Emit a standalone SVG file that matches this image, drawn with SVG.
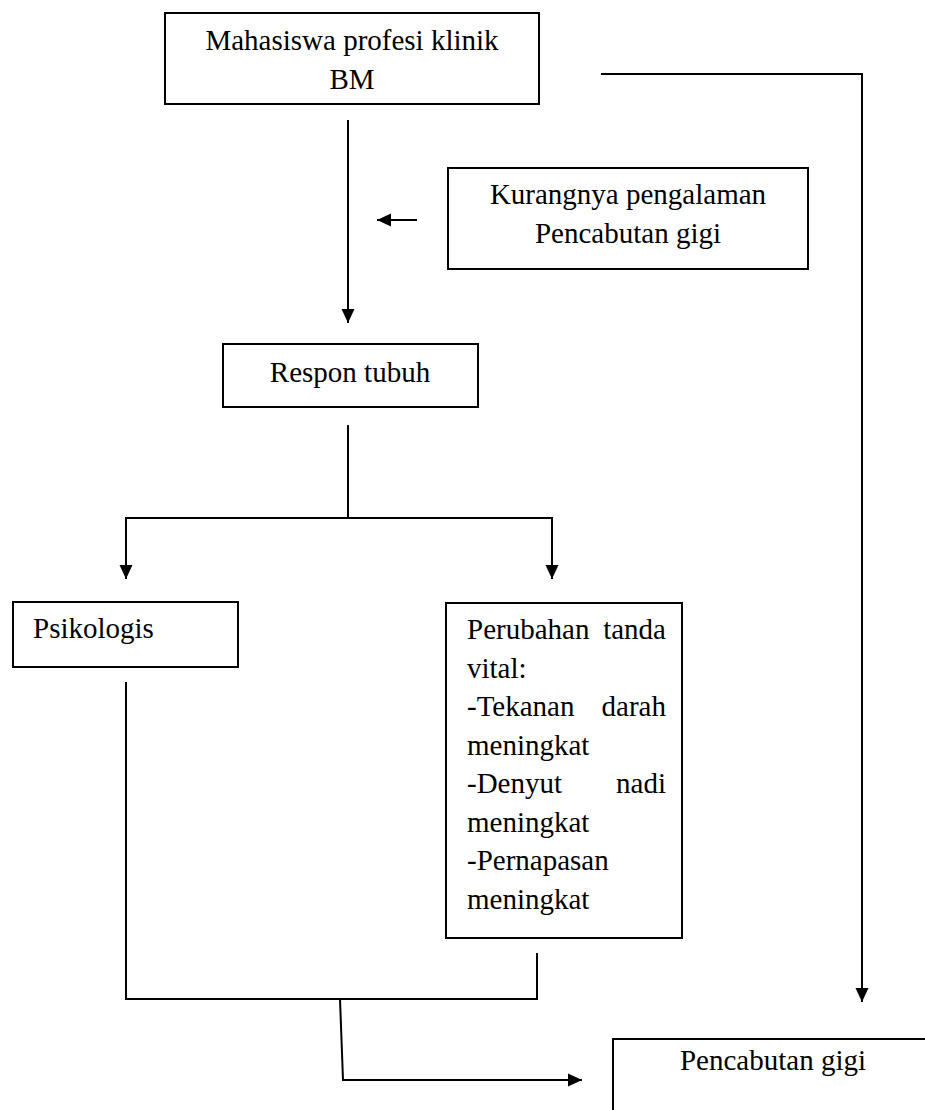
<svg xmlns="http://www.w3.org/2000/svg" width="925" height="1110" viewBox="0 0 925 1110">
<style>
.box{fill:#fff;stroke:#000;stroke-width:2}
.t{font-family:"Liberation Serif","Times New Roman",serif;font-size:29px;fill:#000}
.c{text-anchor:middle}
.e{text-anchor:end}
.ln{fill:none;stroke:#000;stroke-width:2}
</style>
<defs>
<marker id="ah" viewBox="0 0 14 14" refX="14" refY="7" markerWidth="7" markerHeight="7" orient="auto" markerUnits="strokeWidth">
<path d="M0,0.5 L14,7 L0,13.5 z" fill="#000"/>
</marker>
</defs>
<rect width="925" height="1110" fill="#fff"/>
<g id="connectors">
<line class="ln" x1="348" y1="120" x2="348" y2="323" marker-end="url(#ah)"/>
<line class="ln" x1="417" y1="220" x2="377" y2="220" marker-end="url(#ah)"/>
<line class="ln" x1="348" y1="425" x2="348" y2="518"/>
<line class="ln" x1="125" y1="518" x2="553" y2="518"/>
<line class="ln" x1="126" y1="518" x2="126" y2="579" marker-end="url(#ah)"/>
<line class="ln" x1="552" y1="518" x2="552" y2="579" marker-end="url(#ah)"/>
<polyline class="ln" points="601,74 862,74 862,1002" marker-end="url(#ah)"/>
<line class="ln" x1="126" y1="682" x2="126" y2="999"/>
<line class="ln" x1="125" y1="999" x2="538" y2="999"/>
<line class="ln" x1="537" y1="953" x2="537" y2="999"/>
<polyline class="ln" points="340,999 343,1080 582,1080" marker-end="url(#ah)"/>
</g>
<g id="node-mahasiswa">
<rect class="box" x="165" y="13" width="374" height="91"/>
<text class="t c" x="352" y="50">Mahasiswa profesi klinik</text>
<text class="t c" x="352" y="89">BM</text>
</g>
<g id="node-kurangnya">
<rect class="box" x="448" y="168" width="360" height="101"/>
<text class="t c" x="628" y="204">Kurangnya pengalaman</text>
<text class="t c" x="628" y="243">Pencabutan gigi</text>
</g>
<g id="node-respon">
<rect class="box" x="223" y="344" width="255" height="63"/>
<text class="t c" x="350" y="382">Respon tubuh</text>
</g>
<g id="node-psikologis">
<rect class="box" x="13" y="602" width="225" height="65"/>
<text class="t" x="33" y="638">Psikologis</text>
</g>
<g id="node-vital">
<rect class="box" x="446" y="603" width="236" height="335"/>
<text class="t" x="467" y="639">Perubahan</text>
<text class="t e" x="666" y="639">tanda</text>
<text class="t" x="467" y="678">vital:</text>
<text class="t" x="467" y="716">-Tekanan</text>
<text class="t e" x="666" y="716">darah</text>
<text class="t" x="467" y="755">meningkat</text>
<text class="t" x="467" y="793">-Denyut</text>
<text class="t e" x="666" y="793">nadi</text>
<text class="t" x="467" y="832">meningkat</text>
<text class="t" x="467" y="870">-Pernapasan</text>
<text class="t" x="467" y="909">meningkat</text>
</g>
<g id="node-pencabutan">
<rect class="box" x="613" y="1039" width="400" height="200"/>
<text class="t c" x="773" y="1070">Pencabutan gigi</text>
</g>
</svg>
